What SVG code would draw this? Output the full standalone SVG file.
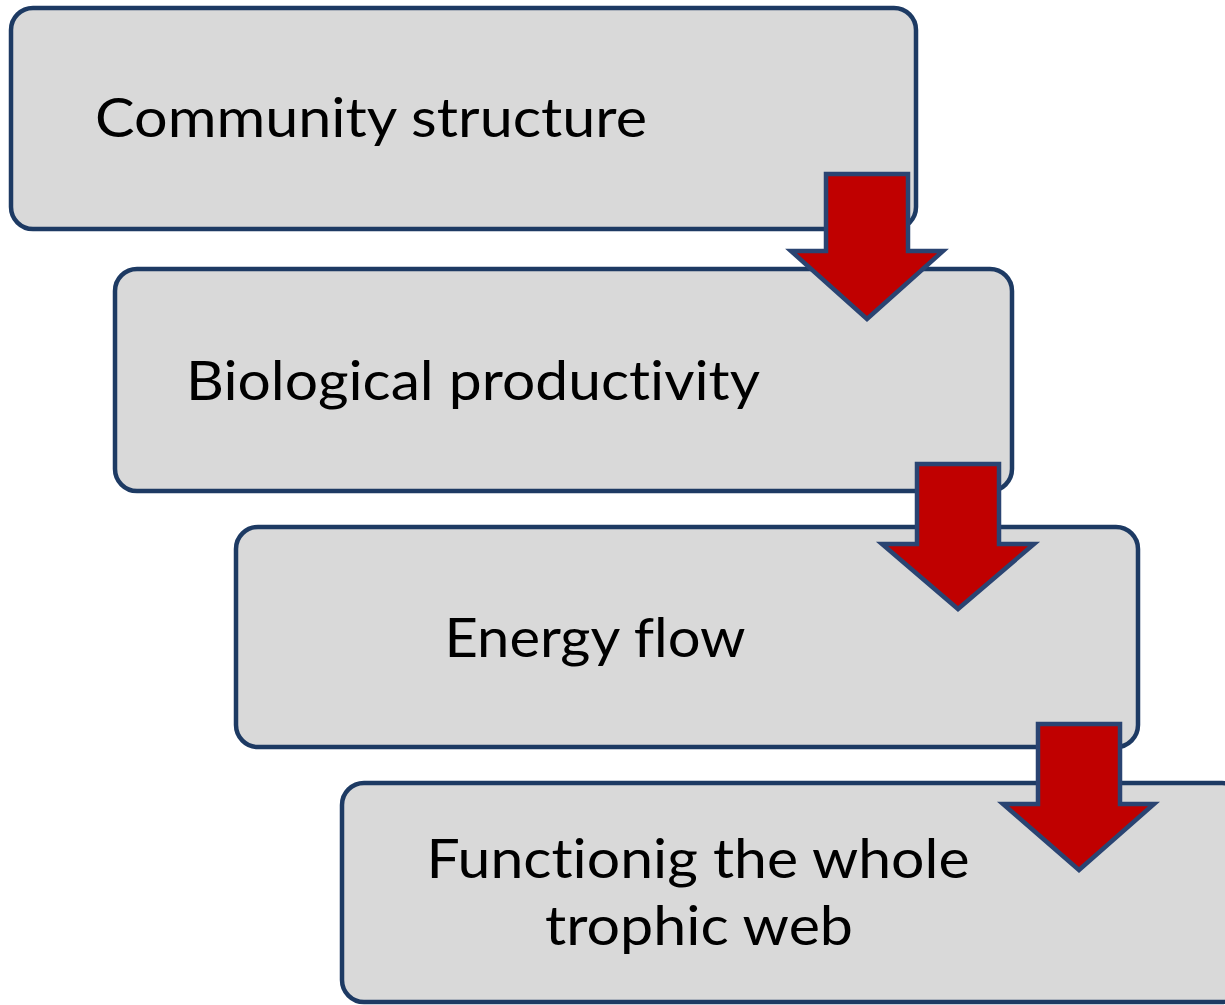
<svg xmlns="http://www.w3.org/2000/svg" width="1225" height="1005" viewBox="0 0 1225 1005">
<style>
.box{fill:#d9d9d9;stroke:#1d3a63;stroke-width:4.5}
.arr{fill:#c00000;stroke:#2a4472;stroke-width:4.5;stroke-linejoin:miter}
.t{font-family:Lato,"Open Sans","Liberation Sans",sans-serif;font-size:55px;fill:#000;text-anchor:middle;font-variant-ligatures:none;font-feature-settings:"liga" 0,"clig" 0,"dlig" 0}
</style>
<rect width="1225" height="1005" fill="#ffffff"/>
<g id="node1"><rect class="box" x="11" y="8" width="905" height="221" rx="22"/>
<text class="t" x="371" y="137" textLength="552" lengthAdjust="spacingAndGlyphs">Community structure</text></g>
<g id="node2"><rect class="box" x="115" y="269" width="897" height="222" rx="22"/>
<text class="t" x="473" y="400" textLength="574" lengthAdjust="spacingAndGlyphs">Biological productivity</text></g>
<g id="node3"><rect class="box" x="236" y="527" width="902" height="220" rx="22"/>
<text class="t" x="595" y="657" textLength="301" lengthAdjust="spacingAndGlyphs">Energy flow</text></g>
<g id="node4"><rect class="box" x="342" y="783" width="902" height="219" rx="22"/>
<text class="t" x="698" y="878" textLength="543" lengthAdjust="spacingAndGlyphs">Functionig the whole</text>
<text class="t" x="699" y="945" textLength="308" lengthAdjust="spacingAndGlyphs">trophic web</text></g>
<g id="connectors">
<polygon class="arr" points="826,174 908,174 908,251 943,251 867,319 791,251 826,251"/>
<polygon class="arr" points="917,464 999,464 999,544 1034,544 958,609 882,544 917,544"/>
<polygon class="arr" points="1038,724 1120,724 1120,804 1154,804 1079,870 1003,804 1038,804"/>
</g>
</svg>
